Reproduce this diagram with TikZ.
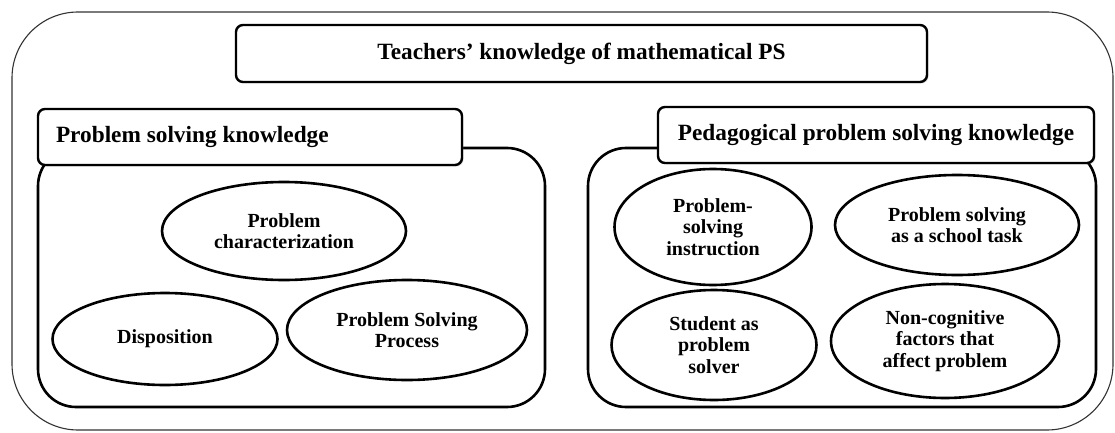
\documentclass[tikz,border=0pt]{standalone}
\usepackage{fontspec}
\setmainfont{Liberation Serif}
\usetikzlibrary{shapes.geometric,shadows}
\begin{document}
\begin{tikzpicture}[x=1pt,y=-1pt,
  outerbox/.style={draw=black!80, line width=1.1pt, rounded corners=66pt, inner sep=0pt},
  container/.style={draw, line width=2.6pt, rounded corners=38pt, inner sep=0pt},
  hdr/.style={draw, line width=2.4pt, rounded corners=7pt, fill=white,
    drop shadow={opacity=0.25, shadow xshift=1.5pt, shadow yshift=-1.5pt},
    font=\fontsize{23.3}{26}\selectfont\bfseries, inner sep=0pt},
  oval/.style={draw, ellipse, line width=2.6pt, inner sep=0pt, align=center,
    font=\fontsize{20}{21.5}\selectfont\bfseries}]
\useasboundingbox (0,0) rectangle (1115,433);
\node[outerbox, minimum width=1101pt, minimum height=418pt] (outer) at (562.5,221) {};
\node[container, minimum width=507pt, minimum height=259pt] (lcont) at (291.5,277.5) {};
\node[container, minimum width=508pt, minimum height=259pt] (rcont) at (842,277.5) {};
\node[hdr, minimum width=424pt, minimum height=56pt, text width=388pt, align=flush left] (lhdr) at (250,137) {Problem solving knowledge};
\node[hdr, minimum width=436pt, minimum height=56pt, align=center] (rhdr) at (876,135) {Pedagogical problem solving knowledge};
\node[hdr, minimum width=691pt, minimum height=57pt, align=center] (title) at (581.5,53.5) {Teachers’ knowledge of mathematical PS};
\node[oval, minimum width=244pt, minimum height=98pt] (pc) at (284,231) {Problem\\characterization};
\node[oval, minimum width=225pt, minimum height=92pt] (disp) at (165,339) {Disposition};
\node[oval, minimum width=240pt, minimum height=100pt] (psp) at (407,330) {Problem Solving\\Process};
\node[oval, minimum width=197pt, minimum height=116pt] (psi) at (713,227) {Problem-\\solving\\instruction};
\node[oval, minimum width=244pt, minimum height=100pt] (pst) at (957,225) {Problem solving\\as a school task};
\node[oval, minimum width=205pt, minimum height=110pt] (stu) at (714,345) {Student as\\problem\\solver};
\node[oval, minimum width=228pt, minimum height=114pt] (nonc) at (945,341) {Non-cognitive\\factors that\\affect problem};
\end{tikzpicture}
\end{document}
